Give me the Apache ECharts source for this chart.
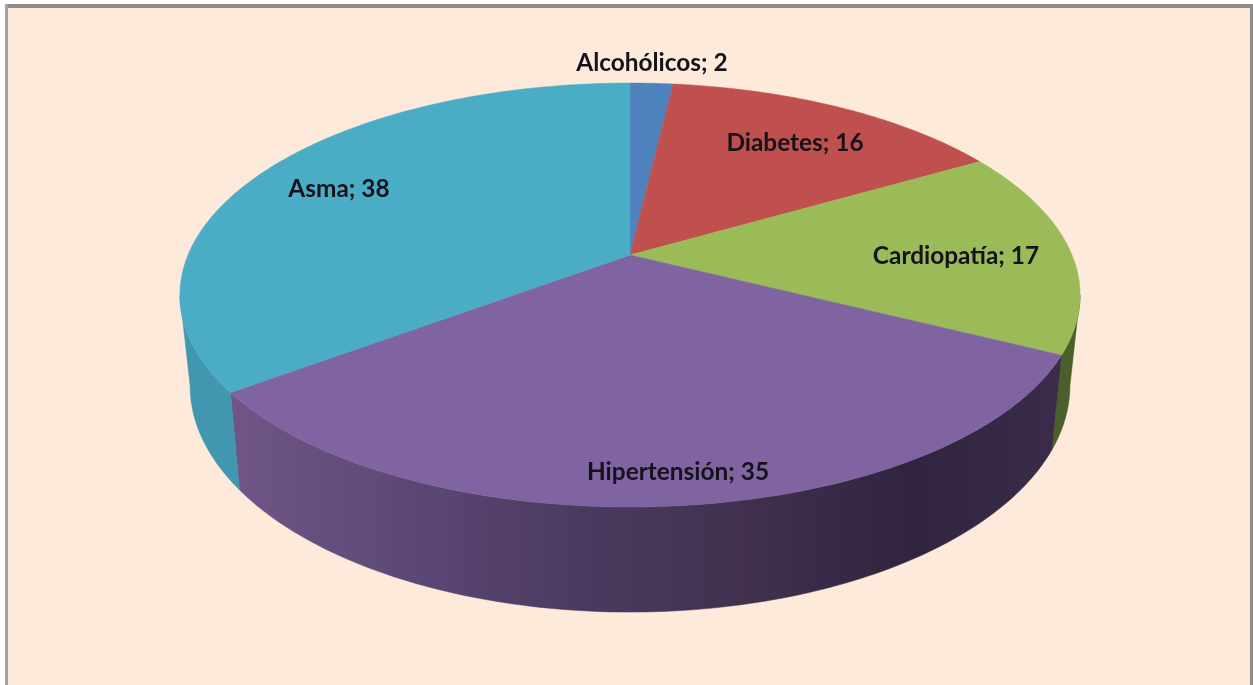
<!DOCTYPE html>
<html><head><meta charset="utf-8">
<script src="https://cdn.jsdelivr.net/npm/echarts@6/dist/echarts.min.js"></script>
<style>html,body{margin:0;padding:0;background:#fff}#c{width:1253px;height:685px}</style></head>
<body><div id="c"></div>
<script>
const categories = ['Alcohólicos','Diabetes','Cardiopatía','Hipertensión','Asma'];
const values = [2,16,17,35,38];
const topColors = ['#4f81bd','#c0504d','#9bbb59','#8064a2','#4bacc6'];
const labelX = [652,795,956,678,339];
const labelY = [63,143,256,472,189];
const total = values.reduce((a,b)=>a+b,0);
const starts = values.map((v,i)=>values.slice(0,i).reduce((a,b)=>a+b,0));
// perspective projection of the pie disc
const CX=630, C=-0.1887;
const TOP={k:442,a:156.3,b:255}, BOT={k:432,a:153.6,b:343};
// angle at which the disc outline turns from the back of the pie to the front
const FRONT0=Math.acos(C), FRONT1=2*Math.PI-FRONT0;
function project(p,theta){
  const u=Math.sin(theta), v=-Math.cos(theta), w=1+C*v;
  return [CX+p.k*u/w,(p.a*v+p.b)/w];
}
function arcBetween(p,a0,a1){
  const n=Math.max(4,Math.ceil((a1-a0)*60)), pts=[];
  for(let j=0;j<=n;j++) pts.push(project(p,a0+(a1-a0)*j/n));
  return pts;
}
const sliceStart=i=>starts[i]/total*2*Math.PI;
const sliceEnd=i=>(starts[i]+values[i])/total*2*Math.PI;
function grad(stops){
  return {type:'linear',x:231,y:0,x2:1060,y2:0,global:true,colorStops:stops};
}
const wallFills=[
  '#3e6189','#8e3a38',
  '#4a5f2a',
  grad([{offset:0,color:'#6f5686'},{offset:.18,color:'#5f4a78'},{offset:.42,color:'#4b3a60'},{offset:.62,color:'#41314f'},{offset:.82,color:'#30243f'},{offset:1,color:'#3a2c4a'}]),
  '#4197af'
];
const rows=categories.map((n,i)=>[i,values[i]]);
const option={
  animation:false,
  backgroundColor:'#fff',
  graphic:[
    {type:'rect',silent:true,z:-10,shape:{x:6,y:5,width:1245,height:680},style:{fill:'#fdeadb',stroke:null}},
    {type:'rect',silent:true,z:-9,shape:{x:6,y:4,width:1247,height:4},style:{fill:'#8f8b89'}},
    {type:'rect',silent:true,z:-9,shape:{x:5,y:4,width:3,height:681},style:{fill:'#a5a2a0'}},
    {type:'rect',silent:true,z:-9,shape:{x:1250,y:4,width:3,height:681},style:{fill:'#8f8b89'}}
  ],
  series:[
    {type:'custom',coordinateSystem:'none',silent:true,z:2,data:rows,renderItem(params,api){
      const i=api.value(0);
      const a0=Math.max(sliceStart(i),FRONT0), a1=Math.min(sliceEnd(i),FRONT1);
      if(a1<=a0) return null;
      const t=arcBetween(TOP,a0,a1), b=arcBetween(BOT,a0,a1);
      return {type:'polygon',shape:{points:t.concat(b.slice().reverse())},
        style:{fill:wallFills[i],stroke:wallFills[i],lineWidth:.5}};
    }},
    {type:'custom',coordinateSystem:'none',silent:true,z:3,data:rows,renderItem(params,api){
      const i=api.value(0);
      return {type:'polygon',shape:{points:[[CX,TOP.b]].concat(arcBetween(TOP,sliceStart(i),sliceEnd(i)))},
        style:{fill:topColors[i],stroke:topColors[i],lineWidth:.5}};
    }},
    {type:'custom',coordinateSystem:'none',silent:true,z:4,data:rows,renderItem(params,api){
      const i=api.value(0);
      return {type:'text',x:labelX[i],y:labelY[i],
        style:{text:categories[i]+'; '+api.value(1),fill:'#15121c',
          font:'bold 24.4px Lato, "Open Sans", sans-serif',align:'center',verticalAlign:'middle'}};
    }}
  ]
};
echarts.init(document.getElementById('c'),null,{renderer:'canvas'}).setOption(option);
</script></body></html>
